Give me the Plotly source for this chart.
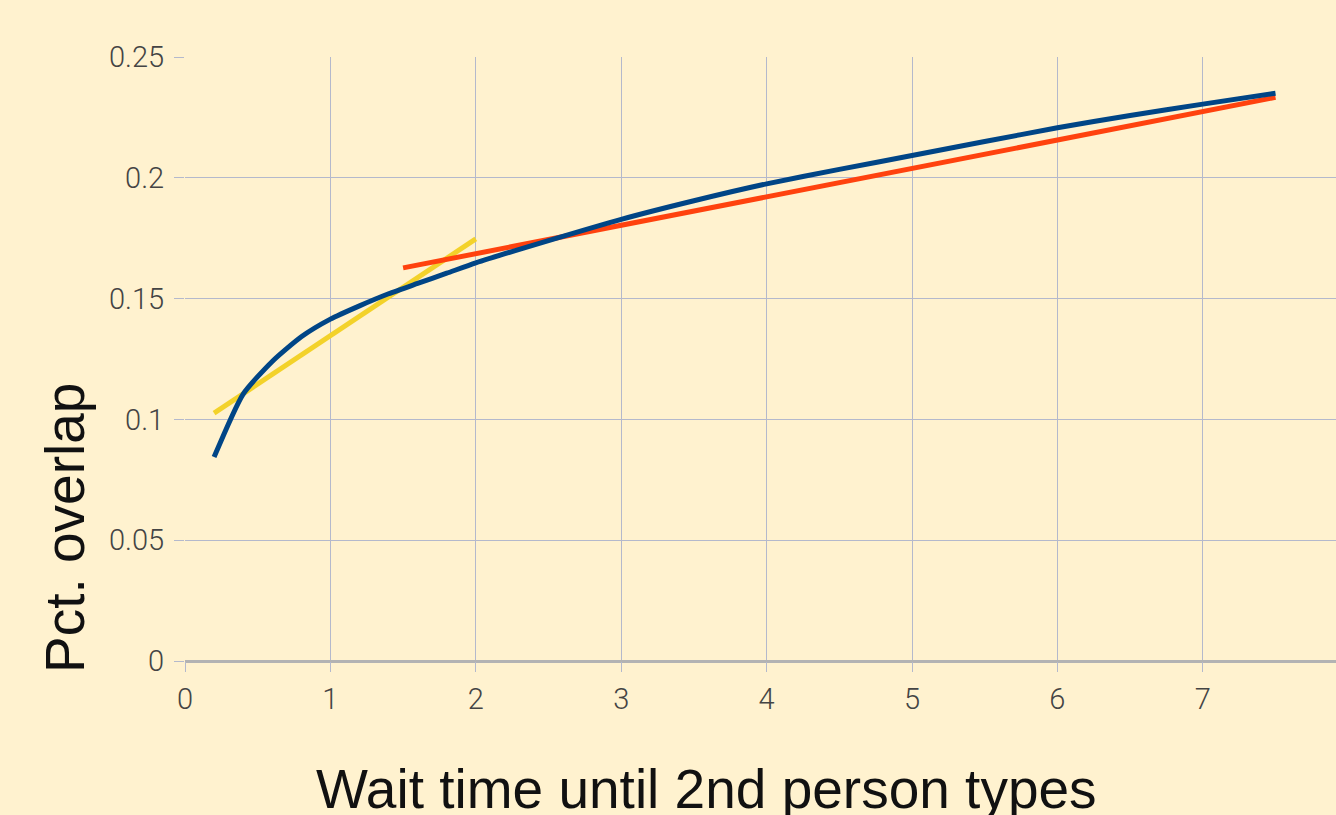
import plotly.graph_objects as go

# Blue: measured overlap curve
wait_x = [0.2, 0.4, 0.6, 0.8, 1.0, 1.2, 1.4, 1.6, 1.8, 2.0, 2.5, 3.0, 3.5, 4.0, 4.5, 5.0, 5.5, 6.0, 6.5, 7.0, 7.5]
overlap = [0.0844, 0.1105, 0.1240, 0.1342, 0.1415, 0.1470, 0.1520, 0.1563, 0.1605, 0.1648, 0.1740,
           0.1828, 0.1905, 0.1975, 0.2035, 0.2092, 0.2150, 0.2207, 0.2258, 0.2305, 0.2350]

# Yellow: early linear fit
fit1_x = [0.2, 2.0]
fit1_y = [0.1026, 0.1747]

# Red: late linear fit
fit2_x = [1.5, 7.5]
fit2_y = [0.1627, 0.2333]

x_ticks = [0, 1, 2, 3, 4, 5, 6, 7]
y_ticks = [0, 0.05, 0.1, 0.15, 0.2, 0.25]
y_tick_text = ["0", "0.05", "0.1", "0.15", "0.2", "0.25"]

BG = "#fff2cf"
GRID = "#b4b9cc"

fig = go.Figure()
fig.add_trace(go.Scatter(x=fit1_x, y=fit1_y, mode="lines",
                         line=dict(color="#f3d22a", width=5), hoverinfo="skip"))
fig.add_trace(go.Scatter(x=fit2_x, y=fit2_y, mode="lines",
                         line=dict(color="#ff420e", width=5), hoverinfo="skip"))
fig.add_trace(go.Scatter(x=wait_x, y=overlap, mode="lines",
                         line=dict(color="#004586", width=5, shape="spline", smoothing=0.6),
                         hoverinfo="skip"))

tick_font = dict(family="Roboto", size=29, color="#444444", weight=300)

fig.update_layout(
    width=1336, height=815,
    margin=dict(l=185, r=0, t=57, b=154),
    paper_bgcolor=BG, plot_bgcolor=BG,
    showlegend=False,
    xaxis=dict(range=[0, 7.916], tickvals=x_ticks, ticktext=[str(v) for v in x_ticks],
               showgrid=True, gridcolor=GRID, gridwidth=1,
               zeroline=False, showline=False,
               ticks="outside", ticklen=10, tickcolor=GRID, tickwidth=1,
               tickfont=tick_font, ticklabelstandoff=2),
    yaxis=dict(range=[0, 0.25], tickvals=y_ticks, ticktext=y_tick_text,
               showgrid=True, gridcolor=GRID, gridwidth=1,
               zeroline=True, zerolinecolor="#b3b3b3", zerolinewidth=3,
               showline=False,
               ticks="outside", ticklen=10, tickcolor=GRID, tickwidth=1,
               tickfont=tick_font, ticklabelstandoff=4),
    annotations=[
        dict(text="Wait time until 2nd person types", xref="paper", yref="paper",
             x=(706 - 185) / 1151, y=-(789 - 661) / 604, xanchor="center", yanchor="middle",
             showarrow=False, font=dict(family="Liberation Sans", size=55, color="#111111")),
        dict(text="Pct. overlap", xref="paper", yref="paper",
             x=-(185 - 65) / 1151, y=(661 - 528) / 604, xanchor="center", yanchor="middle",
             textangle=-90, showarrow=False,
             font=dict(family="Liberation Sans", size=55, color="#111111")),
    ],
)

fig.write_html("out.html", config={"displayModeBar": False},
               post_script="document.body.style.margin='0';document.body.style.overflow='hidden';")
